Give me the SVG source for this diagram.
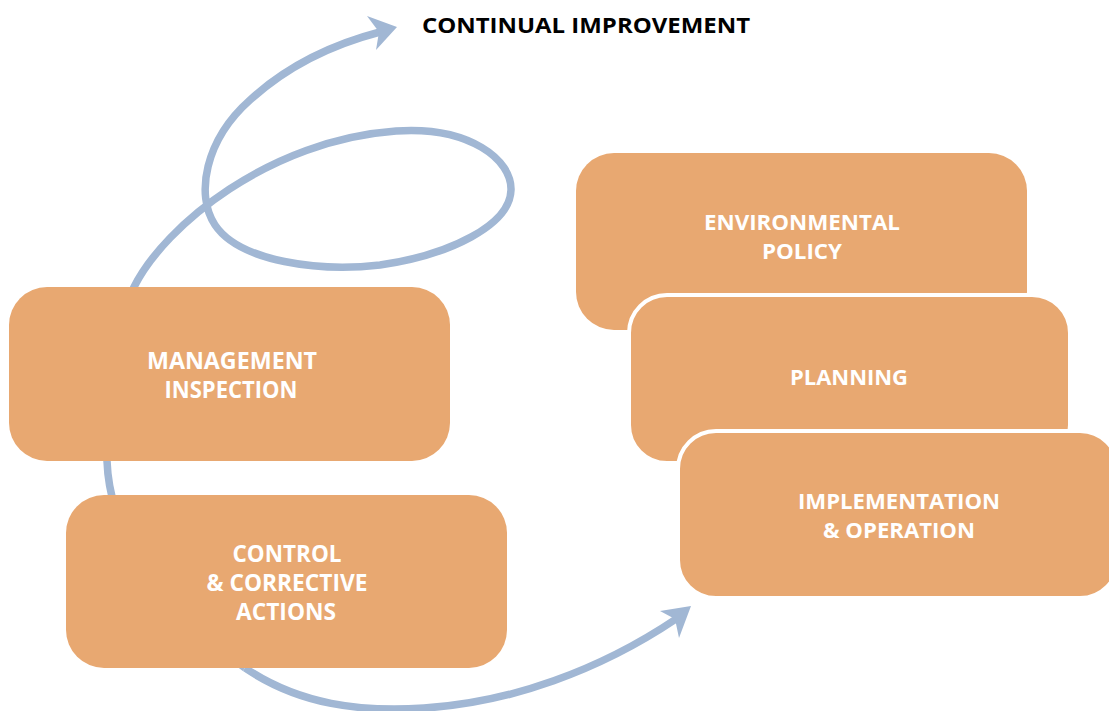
<svg xmlns="http://www.w3.org/2000/svg" width="1109" height="711" viewBox="0 0 1109 711">
<style>
.box{fill:#e8a871;}
.stk{stroke:#ffffff;stroke-width:4;}
.lbl{font-family:"Open Sans","Liberation Sans",sans-serif;font-weight:bold;font-size:22px;fill:#ffffff;text-anchor:middle;}
.cond{font-size:23px;}
.title{font-family:"Open Sans","Liberation Sans",sans-serif;font-weight:bold;font-size:22px;fill:#000000;}
.flow{fill:none;stroke:#a1b7d4;stroke-width:7.5;stroke-linecap:butt;}
.head{fill:#a1b7d4;}
</style>
<rect width="1109" height="711" fill="#ffffff"/>
<g id="connectors">
<path class="flow" d="M245,668 C165,610 110,540 107,461 C104,390 112,330 134,287 C165,225 270,140 396,131 C470,126 512,160 511,190 C510,225 450,255 380,265 C320,272 240,262 215,225 C195,195 205,140 250,100 C285,68 330,45 380,32"/>
<path class="head" d="M397,27 L367,16 L379,32 L376,50 Z"/>
<path class="flow" d="M245,668 C300,705 360,712 424,708 C510,703 600,670 676,619"/>
<path class="head" d="M691,606 L660,611 L675,619 L679,638 Z"/>
</g>
<g id="title"><text class="title" x="422" y="33" textLength="328" lengthAdjust="spacingAndGlyphs">CONTINUAL IMPROVEMENT</text></g>
<g id="node-env">
<rect class="box" x="576" y="153" width="451" height="177" rx="38" ry="38"/>
<text class="lbl" x="802" y="230" textLength="196" lengthAdjust="spacingAndGlyphs">ENVIRONMENTAL</text>
<text class="lbl" x="802" y="259" textLength="80" lengthAdjust="spacingAndGlyphs">POLICY</text>
</g>
<g id="node-planning">
<rect class="box stk" x="629" y="295" width="441" height="168" rx="38" ry="38"/>
<text class="lbl" x="849" y="385" textLength="118" lengthAdjust="spacingAndGlyphs">PLANNING</text>
</g>
<g id="node-impl">
<rect class="box stk" x="678" y="431" width="440" height="167" rx="38" ry="38"/>
<text class="lbl" x="899" y="509" textLength="202" lengthAdjust="spacingAndGlyphs">IMPLEMENTATION</text>
<text class="lbl" x="899" y="538" textLength="152" lengthAdjust="spacingAndGlyphs">&amp; OPERATION</text>
</g>
<g id="node-mgmt">
<rect class="box" x="9" y="287" width="441" height="174" rx="38" ry="38"/>
<text class="lbl cond" x="232" y="369" textLength="170" lengthAdjust="spacingAndGlyphs">MANAGEMENT</text>
<text class="lbl cond" x="231" y="398" textLength="133" lengthAdjust="spacingAndGlyphs">INSPECTION</text>
</g>
<g id="node-control">
<rect class="box" x="66" y="495" width="441" height="173" rx="38" ry="38"/>
<text class="lbl cond" x="287" y="562" textLength="109" lengthAdjust="spacingAndGlyphs">CONTROL</text>
<text class="lbl cond" x="287" y="591" textLength="161" lengthAdjust="spacingAndGlyphs">&amp; CORRECTIVE</text>
<text class="lbl cond" x="286" y="620" textLength="100" lengthAdjust="spacingAndGlyphs">ACTIONS</text>
</g>
</svg>
